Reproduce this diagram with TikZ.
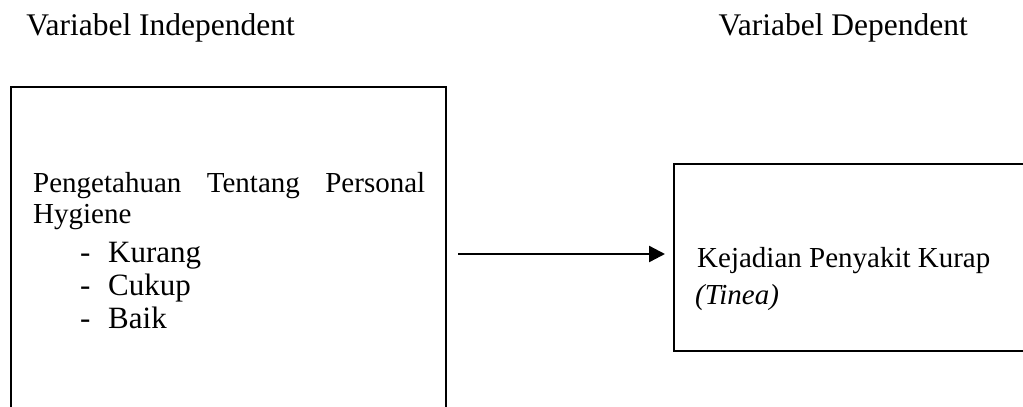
\documentclass[tikz,border=0pt]{standalone}
\usepackage{fontspec}
\setmainfont{Liberation Serif}
\usetikzlibrary{arrows.meta}
\tikzset{
  frame/.style={draw=black, line width=2.2pt, rectangle, inner sep=0pt},
  lbl/.style={inner sep=0pt, anchor=base west},
  ttl/.style={inner sep=0pt, anchor=base east, font=\fontsize{31.5}{37}\selectfont},
  body/.style={lbl, font=\fontsize{29}{34}\selectfont},
  item/.style={lbl, font=\fontsize{31}{36}\selectfont},
  link/.style={line width=2.4pt, -{Triangle[length=16pt,width=16pt]}}
}
\begin{document}
\begin{tikzpicture}[x=1pt,y=-1pt]
\useasboundingbox (0,0) rectangle (1023,407);

% headings
\node[ttl] (hind) at (295,35) {Variabel Independent};
\node[ttl] (hdep) at (968,35) {Variabel Dependent};

% boxes
\node[frame, minimum width=435pt, minimum height=343pt] (indep) at (228.5,258.5) {};
\node[frame, minimum width=361pt, minimum height=187pt] (dep) at (854.5,257.5) {};

% independent variable text
\node[body] (t1) at (33,192) {\makebox[392pt][s]{Pengetahuan Tentang Personal}};
\node[body] (t2) at (33,223) {Hygiene};
\node[item] (d1) at (80,262) {-};
\node[item] (k1) at (108,262) {Kurang};
\node[item] (d2) at (80,295) {-};
\node[item] (k2) at (108,295) {Cukup};
\node[item] (d3) at (80,328) {-};
\node[item] (k3) at (108,328) {Baik};

% dependent variable text
\node[body] (r1) at (697,267) {Kejadian Penyakit Kurap};
\node[body] (r2) at (695,304) {\itshape(Tinea)};

% relation
\coordinate (a1) at (458,254);
\coordinate (a2) at (665,254);
\draw[link] (a1) -- (a2);
\end{tikzpicture}
\end{document}
